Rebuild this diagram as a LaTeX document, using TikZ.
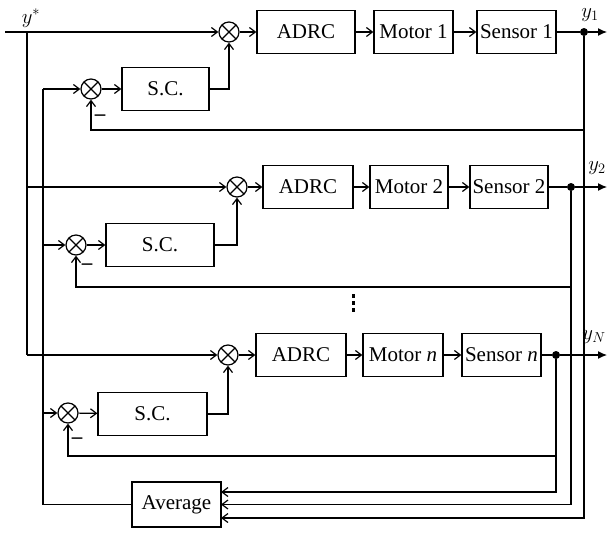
\documentclass[tikz,border=0pt]{standalone}
\usepackage{fontspec}
\setmainfont{Liberation Serif}
\usetikzlibrary{arrows.meta}

\tikzset{
    blk/.style={
        draw,
        line width=1.2pt,
        minimum height=43pt,   % same height for every block
        inner sep=0pt,
        font=\fontsize{21}{24}\selectfont
    },
    sumnode/.style={
        draw, circle,
        line width=1.2pt,
        minimum size=20pt,
        inner sep=0pt,
        path picture={\draw[line width=1.2pt]
            (path picture bounding box.north west) -- (path picture bounding box.south east)
            (path picture bounding box.north east) -- (path picture bounding box.south west);}
    },
    dotnode/.style={circle, fill, minimum size=8pt, inner sep=0pt},
    wire/.style={line width=1.2pt},
    sig/.style={wire, -{Straight Barb[length=6pt,width=9pt]}},
    outsig/.style={wire, -{Latex[length=9pt,width=8pt]}},
    minus/.style={font=\fontsize{21}{24}\selectfont\bfseries, inner sep=0pt},
    lbl/.style={font=\fontsize{20}{24}\selectfont, inner sep=0pt}
}

\begin{document}
\begin{tikzpicture}[x=1pt, y=-1pt]
\useasboundingbox (0,0) rectangle (608,533);

% row 1
\node[sumnode] (s1) at (229,32) {};
\node[blk, minimum width=98pt] (adrc1) at (306,32) {ADRC};
\node[blk, minimum width=79pt] (mot1) at (413.5,32) {Motor 1};
\node[blk, minimum width=79pt] (sen1) at (516.5,32) {Sensor 1};
\node[dotnode] (d1) at (584,32) {};
\node[sumnode] (c1) at (91,89) {};
\node[blk, minimum width=87pt] (sc1) at (165.5,89) {S.C.};
\node[minus] (n1) at (100,118) {–};

% row 2
\node[sumnode] (s2) at (237,187) {};
\node[blk, minimum width=90pt] (adrc2) at (308,187) {ADRC};
\node[blk, minimum width=78pt] (mot2) at (409,187) {Motor 2};
\node[blk, minimum width=78pt] (sen2) at (509,187) {Sensor 2};
\node[dotnode] (d2) at (571,187) {};
\node[sumnode] (c2) at (76,245) {};
\node[blk, minimum width=108pt] (sc2) at (160,245) {S.C.};
\node[minus] (n2) at (87,267) {–};

% row n
\node[sumnode] (s3) at (228,355) {};
\node[blk, minimum width=90pt] (adrc3) at (301,355) {ADRC};
\node[blk, minimum width=80pt] (mot3) at (403,355) {Motor \textit{n}};
\node[blk, minimum width=79pt] (sen3) at (501.5,355) {Sensor \textit{n}};
\node[dotnode] (d3) at (556,355) {};
\node[sumnode] (c3) at (68,413) {};
\node[blk, minimum width=109pt] (sc3) at (152.5,414) {S.C.};
\node[minus] (n3) at (77,441) {–};

\node[blk, minimum width=89pt, minimum height=45pt] (avg) at (176.5,504.5) {Average};

% labels
\node[lbl] (ystar) at (31,18) {$y^{*}$};
\node[lbl] (y1) at (590,15) {$y_1$};
\node[lbl] (y2) at (597,168) {$y_2$};
\node[lbl] (yn) at (594,337) {$y_N$};

% vertical dots between rows
\foreach \yy in {296,303,310}
    \fill (351.5,\yy-1.7) rectangle (355,\yy+1.7);

% helper points
\coordinate (in) at (5,32);
\coordinate (yv1) at (27,32);
\coordinate (yv2) at (27,187);
\coordinate (yv3) at (27,355);
\coordinate (av1) at (43,89);
\coordinate (av2) at (43,245);
\coordinate (av3) at (43,413);
\coordinate (o1) at (607,32);
\coordinate (o2) at (607,187);
\coordinate (o3) at (607,355);
\coordinate (fb1) at (584,130);
\coordinate (fb2) at (571,287);
\coordinate (fb3) at (556,456);
\coordinate (ai1) at (221,518);
\coordinate (ai2) at (221,504.5);
\coordinate (ai3) at (221,492);

% forward paths
\draw[sig] (in) -- (s1);
\draw[wire] (yv1) -- (yv3);
\draw[sig] (yv2) -- (s2);
\draw[sig] (yv3) -- (s3);
\foreach \i in {1,2,3}{
    \draw[sig] (s\i) -- (adrc\i);
    \draw[sig] (adrc\i) -- (mot\i);
    \draw[sig] (mot\i) -- (sen\i);
    \draw[wire] (sen\i) -- (d\i);
    \draw[outsig] (d\i) -- (o\i);
    \draw[sig] (c\i) -- (sc\i);
    \draw[sig] (sc\i.east) -| (s\i.south);
    \draw[sig] (fb\i) -| (c\i.south);
    \draw[sig] (d\i) |- (ai\i);
}

% average back to the S.C. loops
\draw[wire] (avg.west) -| (av1);
\draw[sig] (av1) -- (c1);
\draw[sig] (av2) -- (c2);
\draw[sig] (av3) -- (c3);
\end{tikzpicture}
\end{document}
